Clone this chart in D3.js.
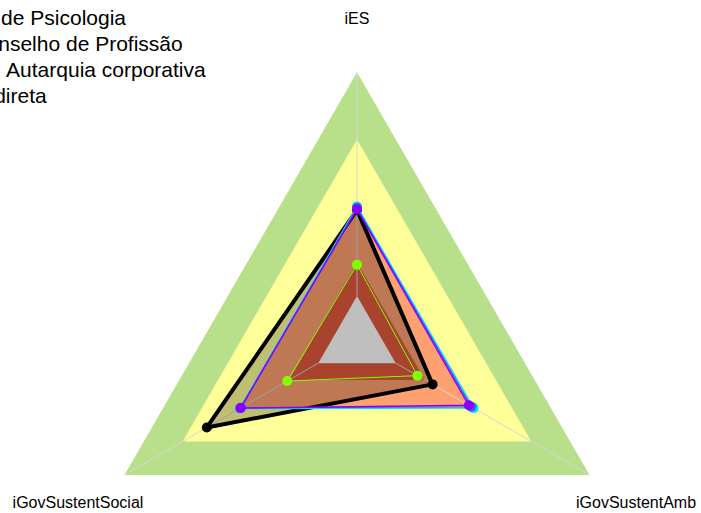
<!DOCTYPE html>
<html>
<head>
<meta charset="utf-8">
<script src="https://cdn.jsdelivr.net/npm/d3@7"></script>
<style>
  body { margin: 0; background: #fff; }
  svg { display: block; }
</style>
</head>
<body>
<script>
// Axes, first one at the top, then counter-clockwise
var axes = ["iES", "iGovSustentSocial", "iGovSustentAmb"];

// Background levels (outer limit of each band)
var bandLimits = [1.0, 0.7, 0.4, 0.15, 0];
var bandColors = ["#b8e08a", "#ffff99", "#ffa070", "#e25a3c", "#ffffff"];

// Series values, in axis order
var seriesBlack  = [0.385, 0.575, 0.190];
var seriesCyan   = [0.400, 0.405, 0.402];
var seriesBlue   = [0.394, 0.398, 0.390];
var seriesPurple = [0.388, 0.402, 0.377];
var seriesLime   = [0.140, 0.160, 0.112];

var legendLabels = [
    "Conselho Regional de Psicologia",
    "Conselho de Profissão",
    "Natureza jurídica: Autarquia corporativa",
    "Administração indireta"
];

// black is drawn first so the others sit on top of it
var series = [
    {values: seriesBlack,  color: "#000000", width: 4,   fill: "rgba(0,0,0,0.25)"},
    {values: seriesCyan,   color: "#00e5ff", width: 1.5, fill: "none"},
    {values: seriesBlue,   color: "#2f5bff", width: 1.2, fill: "none"},
    {values: seriesPurple, color: "#8a00ff", width: 1.5, fill: "none"},
    {values: seriesLime,   color: "#7fff00", width: 1,   fill: "none"}
];

var width = 701, height = 513;
var cx = 357, cy = 340.75, R = 268.5;

var svg = d3.select("body").append("svg")
    .attr("width", width)
    .attr("height", height);

// fmsb style: value 0 sits at 1/6 of the radius
var r = d3.scaleLinear().domain([0, 1]).range([R / 6, R]);

// top, then bottom-left, then bottom-right
function pos(v, i) {
    var a = Math.PI / 2 + i * 2 * Math.PI / axes.length;
    return [cx + r(v) * Math.cos(a), cy - r(v) * Math.sin(a)];
}

var line = d3.line().curve(d3.curveLinearClosed);

// Background bands
svg.append("g")
    .selectAll("path")
    .data(bandLimits)
    .enter()
    .append("path")
    .attr("d", function(b) { return line(axes.map(function(a, i) { return pos(b, i); })); })
    .attr("fill", function(b, i) { return bandColors[i]; });

// Axis lines, from the inner hole to the outer edge
svg.append("g")
    .selectAll("line")
    .data(axes)
    .enter()
    .append("line")
    .attr("x1", function(d, i) { return pos(0, i)[0]; })
    .attr("y1", function(d, i) { return pos(0, i)[1]; })
    .attr("x2", function(d, i) { return pos(1, i)[0]; })
    .attr("y2", function(d, i) { return pos(1, i)[1]; })
    .attr("stroke", "#d6d6d6")
    .attr("stroke-width", 1);

// Series polygons and points
var sg = svg.append("g")
    .selectAll("g")
    .data(series)
    .enter()
    .append("g");

sg.append("path")
    .attr("d", function(s) { return line(s.values.map(pos)); })
    .attr("fill", function(s) { return s.fill; })
    .attr("stroke", function(s) { return s.color; })
    .attr("stroke-width", function(s) { return s.width; })
    .attr("stroke-linejoin", "round");

sg.selectAll("circle")
    .data(function(s) { return s.values.map(function(v, i) { return {p: pos(v, i), color: s.color}; }); })
    .enter()
    .append("circle")
    .attr("cx", function(d) { return d.p[0]; })
    .attr("cy", function(d) { return d.p[1]; })
    .attr("r", 5)
    .attr("fill", function(d) { return d.color; });

// Axis titles
var labelR = R * 1.2;
svg.append("g")
    .selectAll("text")
    .data(axes)
    .enter()
    .append("text")
    .attr("x", function(d, i) { return cx + labelR * Math.cos(Math.PI / 2 + i * 2 * Math.PI / 3); })
    .attr("y", function(d, i) { return cy - labelR * Math.sin(Math.PI / 2 + i * 2 * Math.PI / 3); })
    .attr("dy", "0.36em")
    .attr("text-anchor", "middle")
    .style("font-family", "Liberation Sans, Arial, sans-serif")
    .style("font-size", "16px")
    .text(function(d) { return d; });

// Legend (runs off the left edge like the original)
var legendEnds = [126, 182.7, 205.7, 46.7];
svg.append("g")
    .selectAll("text")
    .data(legendLabels)
    .enter()
    .append("text")
    .attr("x", function(d, i) { return legendEnds[i]; })
    .attr("y", function(d, i) { return 25 + i * 26; })
    .attr("text-anchor", "end")
    .style("font-family", "Liberation Sans, Arial, sans-serif")
    .style("font-size", "21px")
    .text(function(d) { return d; });
</script>
</body>
</html>
